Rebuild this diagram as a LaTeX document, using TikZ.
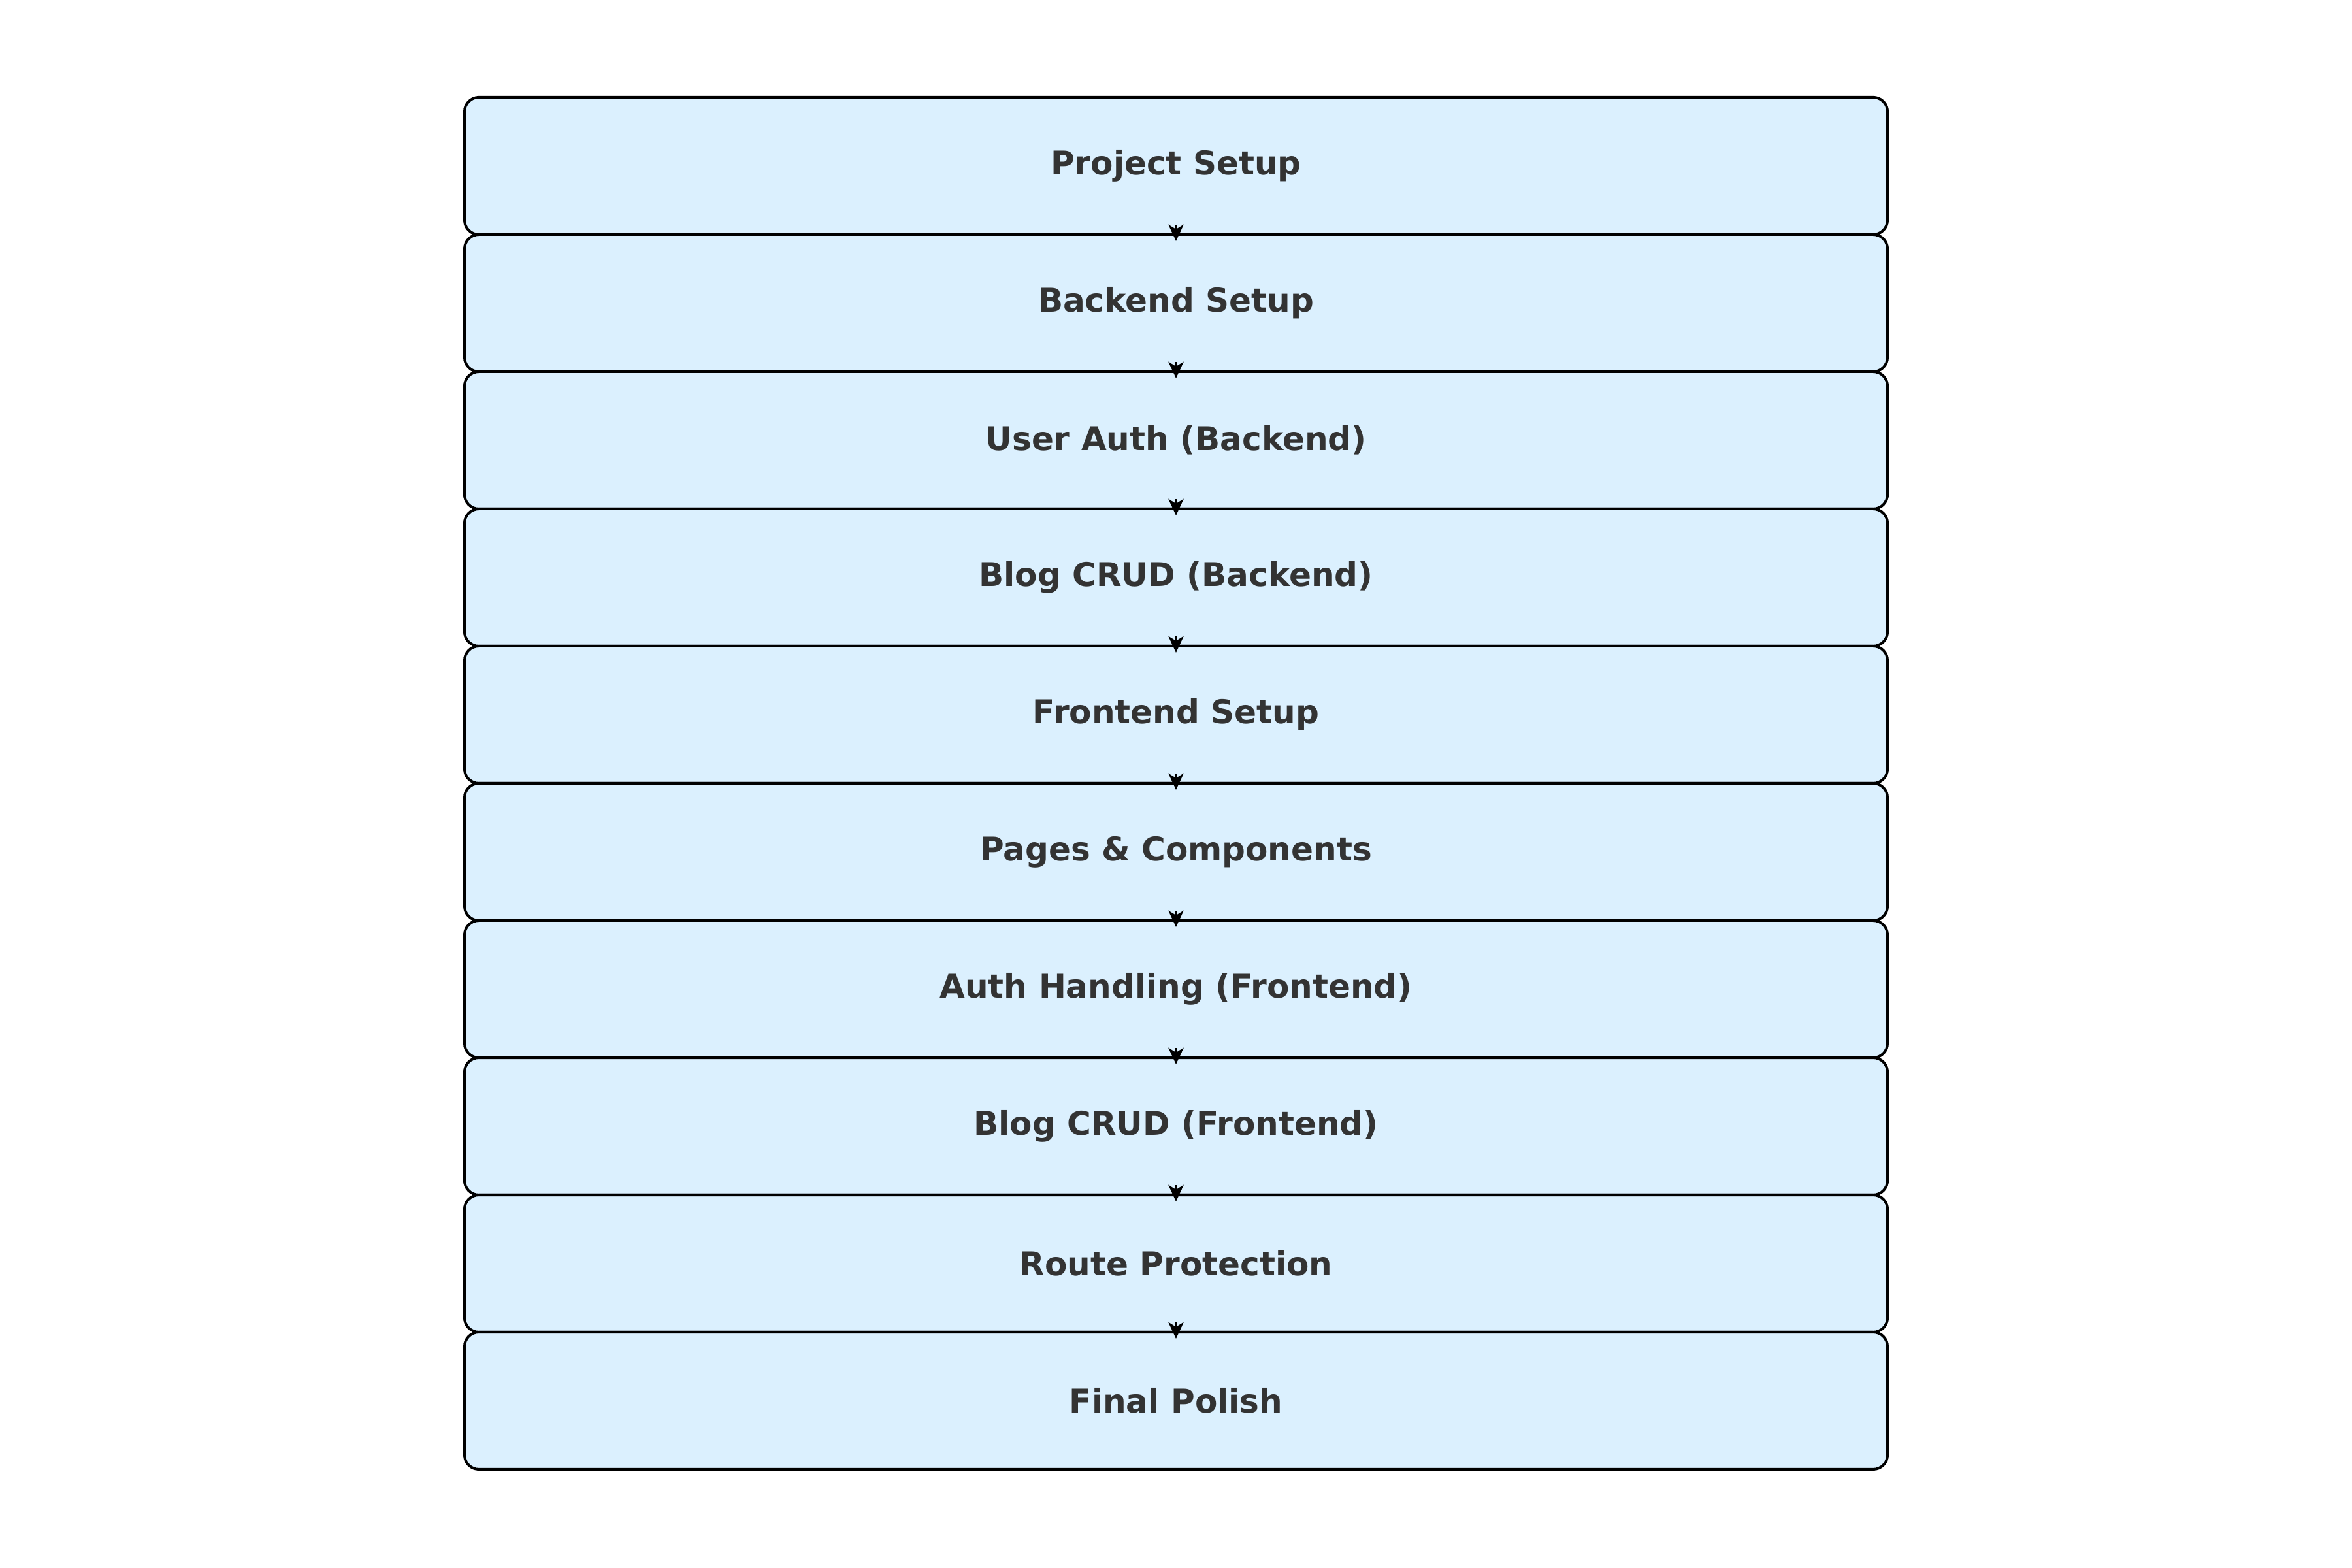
\documentclass[tikz,border=0pt]{standalone}
\usepackage{fontspec}
\setmainfont{DejaVu Sans}
\usetikzlibrary{arrows.meta,positioning}

\definecolor{stepfill}{RGB}{219,240,254}
\definecolor{steptext}{RGB}{51,51,51}

\tikzset{
	stepbox/.style={draw=black, line width=1.15pt, fill=stepfill, rounded corners=0.22cm,
		minimum width=21.78cm, minimum height=2.10cm, outer sep=0pt,
		text=steptext, font=\bfseries\fontsize{14.25}{18}\selectfont},
	flow/.style={-{Stealth[length=0.25cm,width=0.23cm,inset=0.07cm]}, line width=1.3pt}
}

\begin{document}
\begin{tikzpicture}[node distance=0pt]
	\useasboundingbox (0,0) rectangle (36,24);

	\node[stepbox] (S1) at (18,21.46) {Project Setup};
	\node[stepbox, below=of S1] (S2) {Backend Setup};
	\node[stepbox, below=of S2] (S3) {User Auth (Backend)};
	\node[stepbox, below=of S3] (S4) {Blog CRUD (Backend)};
	\node[stepbox, below=of S4] (S5) {Frontend Setup};
	\node[stepbox, below=of S5] (S6) {Pages \& Components};
	\node[stepbox, below=of S6] (S7) {Auth Handling (Frontend)};
	\node[stepbox, below=of S7] (S8) {Blog CRUD (Frontend)};
	\node[stepbox, below=of S8] (S9) {Route Protection};
	\node[stepbox, below=of S9] (S10) {Final Polish};

	\draw[flow] ([yshift=0.15cm]S1.south) -- ([yshift=-0.1cm]S2.north);
	\draw[flow] ([yshift=0.15cm]S2.south) -- ([yshift=-0.1cm]S3.north);
	\draw[flow] ([yshift=0.15cm]S3.south) -- ([yshift=-0.1cm]S4.north);
	\draw[flow] ([yshift=0.15cm]S4.south) -- ([yshift=-0.1cm]S5.north);
	\draw[flow] ([yshift=0.15cm]S5.south) -- ([yshift=-0.1cm]S6.north);
	\draw[flow] ([yshift=0.15cm]S6.south) -- ([yshift=-0.1cm]S7.north);
	\draw[flow] ([yshift=0.15cm]S7.south) -- ([yshift=-0.1cm]S8.north);
	\draw[flow] ([yshift=0.15cm]S8.south) -- ([yshift=-0.1cm]S9.north);
	\draw[flow] ([yshift=0.15cm]S9.south) -- ([yshift=-0.1cm]S10.north);
\end{tikzpicture}
\end{document}
